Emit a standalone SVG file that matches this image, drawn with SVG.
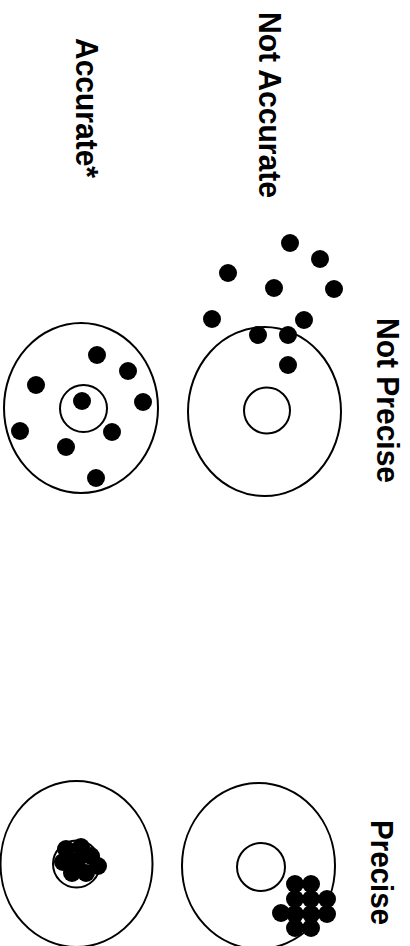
<svg xmlns="http://www.w3.org/2000/svg" width="410" height="946" viewBox="0 0 410 946">
<style>
.lbl{font-family:"Liberation Sans",Arial,sans-serif;font-weight:bold;font-size:32px;fill:#000}
.ring{fill:none;stroke:#000;stroke-width:2}
.dot{fill:#000}
</style>
<rect width="410" height="946" fill="#fff"/>
<g id="labels">
<text class="lbl" transform="translate(259,12) rotate(90)" textLength="186" lengthAdjust="spacingAndGlyphs">Not Accurate</text>
<text class="lbl" transform="translate(76,38) rotate(90)" textLength="140" lengthAdjust="spacingAndGlyphs">Accurate*</text>
<text class="lbl" transform="translate(377,318) rotate(90)" textLength="165" lengthAdjust="spacingAndGlyphs">Not Precise</text>
<text class="lbl" transform="translate(371,820) rotate(90)" textLength="105" lengthAdjust="spacingAndGlyphs">Precise</text>
</g>
<g id="target-accurate-not-precise">
<ellipse class="ring" cx="81" cy="408" rx="77" ry="85"/>
<circle class="ring" cx="83.5" cy="408.5" r="23.5"/>
<g class="dot">
<circle cx="97" cy="355" r="9"/>
<circle cx="128" cy="371" r="9"/>
<circle cx="36" cy="385" r="9"/>
<circle cx="82" cy="401" r="9"/>
<circle cx="143" cy="402" r="9"/>
<circle cx="20" cy="431" r="9"/>
<circle cx="112" cy="432" r="9"/>
<circle cx="66" cy="447" r="9"/>
<circle cx="96" cy="478" r="9"/>
</g>
</g>
<g id="target-not-accurate-not-precise">
<ellipse class="ring" cx="264.5" cy="411.5" rx="76.5" ry="84.5"/>
<circle class="ring" cx="267" cy="410.5" r="23"/>
<g class="dot">
<circle cx="290" cy="243" r="9"/>
<circle cx="320" cy="259" r="9"/>
<circle cx="228" cy="273" r="9"/>
<circle cx="274" cy="288" r="9"/>
<circle cx="334" cy="289" r="9"/>
<circle cx="212" cy="319" r="9"/>
<circle cx="304" cy="320" r="9"/>
<circle cx="258" cy="335" r="9"/>
<circle cx="288" cy="335" r="9"/>
<circle cx="288" cy="365" r="9"/>
</g>
</g>
<g id="target-accurate-precise">
<ellipse class="ring" cx="76.5" cy="864" rx="76" ry="83"/>
<circle class="ring" cx="76.5" cy="864" r="23.5"/>
<g class="dot">
<circle cx="66" cy="849" r="9"/>
<circle cx="81" cy="847" r="9"/>
<circle cx="63" cy="862" r="9"/>
<circle cx="77" cy="861" r="9"/>
<circle cx="91" cy="856" r="9"/>
<circle cx="98" cy="866" r="9"/>
<circle cx="72" cy="873" r="9"/>
<circle cx="86" cy="873" r="9"/>
</g>
</g>
<g id="target-not-accurate-precise">
<ellipse class="ring" cx="258.5" cy="866" rx="76.5" ry="83"/>
<circle class="ring" cx="261" cy="867" r="24"/>
<g class="dot">
<circle cx="295" cy="884" r="9"/>
<circle cx="311" cy="884" r="9"/>
<circle cx="295" cy="899" r="9"/>
<circle cx="311" cy="899" r="9"/>
<circle cx="327" cy="899" r="9"/>
<circle cx="281" cy="913" r="9"/>
<circle cx="295" cy="914" r="9"/>
<circle cx="311" cy="914" r="9"/>
<circle cx="327" cy="914" r="9"/>
<circle cx="295" cy="928" r="9"/>
<circle cx="311" cy="928" r="9"/>
</g>
</g>
</svg>
